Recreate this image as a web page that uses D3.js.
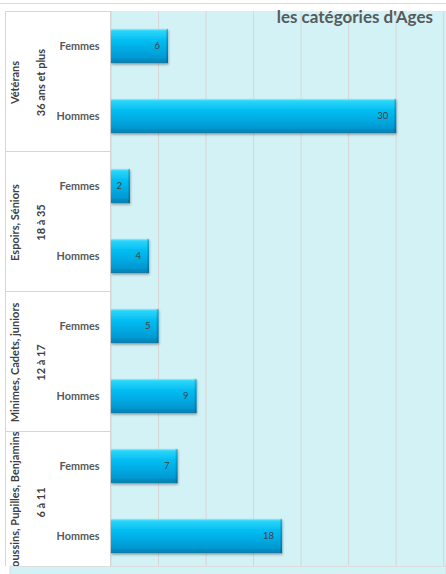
<!DOCTYPE html>
<html>
<head>
<meta charset="utf-8">
<script src="https://cdn.jsdelivr.net/npm/d3@7"></script>
<style>
  html, body { margin: 0; padding: 0; background: #fff; }
  svg { display: block; font-family: Lato, "Open Sans", sans-serif; }
</style>
</head>
<body>
<div id="chart"></div>
<script>
// data
const groupNames = ["Vétérans", "Espoirs, Séniors", "Minimes, Cadets, juniors", "Poussins, Pupilles, Benjamins"];
const groupAges = ["36 ans et plus", "18 à 35", "12 à 17", "6 à 11"];
const sexes = ["Femmes", "Hommes"];
const femmes = [6, 2, 5, 7];
const hommes = [30, 4, 9, 18];
const gridValues = [0, 5, 10, 15, 20, 25, 30, 35];
const title = "les catégories d'Ages";

const width = 446, height = 574;
const plotLeft = 111, plotRight = 443.7, plotTop = 11, plotBottom = 571, visibleBottom = 566;

const rows = [];
groupNames.forEach((g, i) => {
  rows.push({group: i, sex: sexes[0], value: femmes[i], key: i + "F"});
  rows.push({group: i, sex: sexes[1], value: hommes[i], key: i + "H"});
});

const svg = d3.select("#chart").append("svg")
  .attr("width", width)
  .attr("height", height);

const defs = svg.append("defs");
const grad = defs.append("linearGradient").attr("id", "barGrad")
  .attr("x1", 0).attr("y1", 0).attr("x2", 0).attr("y2", 1);
[["0%", "#8ef0ff"], ["6%", "#2ad6fa"], ["35%", "#00bdf2"], ["85%", "#0098d2"], ["100%", "#0a7aa6"]]
  .forEach(s => grad.append("stop").attr("offset", s[0]).attr("stop-color", s[1]));
const endGrad = defs.append("linearGradient").attr("id", "endGrad")
  .attr("x1", 0).attr("y1", 0).attr("x2", 1).attr("y2", 0);
endGrad.append("stop").attr("offset", "0%").attr("stop-color", "#000").attr("stop-opacity", 0);
endGrad.append("stop").attr("offset", "100%").attr("stop-color", "#003a55").attr("stop-opacity", 0.35);
const shadow = defs.append("filter").attr("id", "shadow")
  .attr("x", "-10%").attr("y", "-20%").attr("width", "130%").attr("height", "160%");
shadow.append("feDropShadow").attr("dx", 0.5).attr("dy", 1.5).attr("stdDeviation", 1.2)
  .attr("flood-color", "#000").attr("flood-opacity", 0.35);
defs.append("clipPath").attr("id", "visClip").append("rect")
  .attr("x", 0).attr("y", 0).attr("width", width).attr("height", visibleBottom);

const x = d3.scaleLinear().domain([0, 35]).range([plotLeft, plotRight]);
const y = d3.scaleBand().domain(rows.map(d => d.key))
  .range([plotTop, plotBottom]).paddingInner(0.51).paddingOuter(0.255);
const yGroup = d3.scaleBand().domain(groupNames.map((g, i) => i))
  .range([plotTop, plotBottom]);

// top frame line
svg.append("line").attr("x1", 0).attr("x2", width).attr("y1", 3.5).attr("y2", 3.5)
  .attr("stroke", "#dcdcdc");

const root = svg.append("g").attr("clip-path", "url(#visClip)");

// plot background
root.append("rect").attr("x", plotLeft - 1).attr("y", plotTop)
  .attr("width", width - plotLeft + 1).attr("height", plotBottom - plotTop)
  .attr("fill", "#d3f2f6");

// gridlines
root.append("g").selectAll("line").data(gridValues).join("line")
  .attr("x1", d => x(d)).attr("x2", d => x(d))
  .attr("y1", plotTop).attr("y2", plotBottom)
  .attr("stroke", "#d6d6d6").attr("stroke-width", 1);

// label table
const table = root.append("g");
table.append("rect").attr("x", 5.5).attr("y", plotTop + 0.5)
  .attr("width", plotLeft - 6).attr("height", plotBottom - plotTop)
  .attr("fill", "#fff").attr("stroke", "#d6d6d6");
table.selectAll("line.sep").data(groupNames.slice(1).map((g, i) => i + 1)).join("line")
  .attr("class", "sep")
  .attr("x1", 5.5).attr("x2", plotLeft - 0.5)
  .attr("y1", d => Math.round(yGroup(d)) + 0.5).attr("y2", d => Math.round(yGroup(d)) + 0.5)
  .attr("stroke", "#d6d6d6");

// group labels, clipped per cell
groupNames.forEach((g, i) => {
  const top = yGroup(i), h = yGroup.bandwidth();
  defs.append("clipPath").attr("id", "gclip" + i).append("rect")
    .attr("x", 5).attr("y", top + 1).attr("width", 60).attr("height", h - 1);
  const cy = top + h / 2 + 1.5;
  const cell = table.append("g").attr("clip-path", `url(#gclip${i})`);
  cell.append("text")
    .attr("transform", `translate(18.5,${cy}) rotate(-90)`)
    .attr("text-anchor", "middle")
    .attr("font-size", 11).attr("font-weight", "bold").attr("fill", "#404040")
    .text(g);
  cell.append("text")
    .attr("transform", `translate(44.5,${cy}) rotate(-90)`)
    .attr("text-anchor", "middle")
    .attr("font-size", 11).attr("font-weight", "bold").attr("fill", "#404040")
    .text(groupAges[i]);
});

// sex labels
table.selectAll("text.sex").data(rows).join("text")
  .attr("class", "sex")
  .attr("x", 99.5)
  .attr("y", d => y(d.key) + y.bandwidth() / 2 + 3.8)
  .attr("text-anchor", "end")
  .attr("font-size", 10.8).attr("font-weight", "bold").attr("fill", "#595959")
  .text(d => d.sex);

// bars
const bars = root.append("g").selectAll("g").data(rows).join("g");
bars.append("rect")
  .attr("x", x(0)).attr("y", d => y(d.key))
  .attr("width", d => x(d.value) - x(0)).attr("height", y.bandwidth())
  .attr("fill", "url(#barGrad)")
  .attr("filter", "url(#shadow)");
bars.append("rect")
  .attr("x", d => x(d.value) - 2.5).attr("y", d => y(d.key))
  .attr("width", 2.5).attr("height", y.bandwidth())
  .attr("fill", "url(#endGrad)");
bars.append("text")
  .attr("x", d => x(d.value) - 8)
  .attr("y", d => y(d.key) + y.bandwidth() / 2 + 3.2)
  .attr("text-anchor", "end")
  .attr("font-size", 9.5).attr("fill", "#404040")
  .text(d => d.value);

// title
svg.append("text")
  .attr("x", 433).attr("y", 23)
  .attr("text-anchor", "end")
  .attr("font-size", 17).attr("font-weight", "bold").attr("fill", "#595959")
  .text(title);

// bottom strip
svg.append("rect").attr("x", 10).attr("y", visibleBottom + 0.5)
  .attr("width", width - 10).attr("height", height - visibleBottom)
  .attr("fill", "#d3f2f6").attr("stroke", "#dcdcdc");
</script>
</body>
</html>
